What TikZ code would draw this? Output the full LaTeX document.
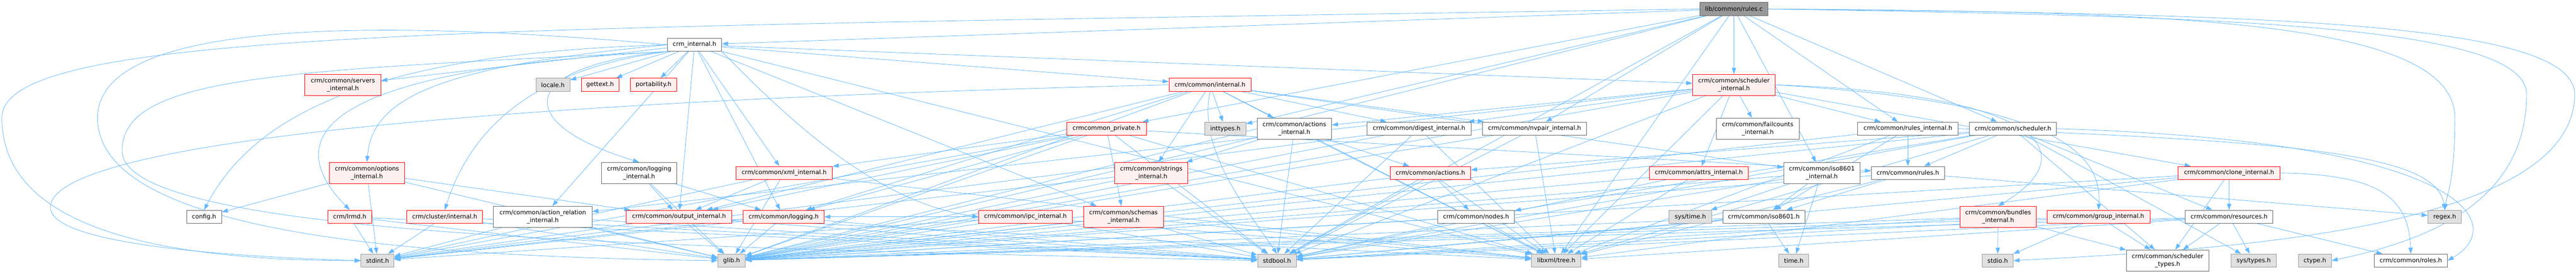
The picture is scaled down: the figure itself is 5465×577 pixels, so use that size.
\documentclass[tikz,border=0pt]{standalone}
\usepackage{fontspec}
\setmainfont{DejaVu Sans}
\usetikzlibrary{arrows.meta}
\usetikzlibrary{backgrounds}
\definecolor{edgeblue}{HTML}{63B8FF}
\definecolor{redfill}{HTML}{FFF0F0}
\definecolor{grey40}{HTML}{666666}
\definecolor{grey60}{HTML}{999999}
\definecolor{grey90}{HTML}{E0E0E0}
\tikzset{f/.style={font=\fontsize{12.8}{16.5}\selectfont}}
\tikzset{box/.style={f, draw, line width=1pt, minimum height=28pt, inner sep=2pt, align=center}}
\tikzset{root/.style={box, draw=grey40, fill=grey60}}
\tikzset{doc/.style={box, draw=grey40, fill=white}}
\tikzset{trunc/.style={box, draw=red, fill=redfill}}
\tikzset{sys/.style={box, draw=grey60, fill=grey90}}
\tikzset{two/.style={minimum height=45pt}}
\tikzset{link/.style={->, draw=edgeblue, line width=0.9pt}}

\begin{document}
\begin{tikzpicture}[x=1pt, y=-1pt, >={Triangle[length=13pt,width=9pt]}]
  \useasboundingbox (0,0) rectangle (5465,577);
  % row 1
  \node[root, minimum width=145pt] (rules) at (3678.5,19) {lib/common/rules.c};
  % row 2
  \node[doc, minimum width=115pt] (crmint) at (1473.5,95) {crm\_internal.h};
  % row 3
  \node[trunc, two, minimum width=161pt] (servers) at (727.5,180) {crm/common/servers\\\_internal.h};
  \node[sys, minimum width=72pt] (locale) at (1173,180) {locale.h};
  \node[trunc, minimum width=80pt] (gettext) at (1273,180) {gettext.h};
  \node[trunc, minimum width=99pt] (portab) at (1386.5,180) {portability.h};
  \node[trunc, minimum width=174pt] (cinternal) at (2567,180) {crm/common/internal.h};
  \node[trunc, two, minimum width=175pt] (schedint) at (3678.5,180) {crm/common/scheduler\\\_internal.h};
  % row 4
  \node[trunc, minimum width=169pt] (private) at (2347.5,273) {crmcommon\_private.h};
  \node[sys, minimum width=87pt] (inttypes) at (2599.5,273) {inttypes.h};
  \node[doc, two, minimum width=158pt] (actint) at (2746,273) {crm/common/actions\\\_internal.h};
  \node[doc, minimum width=221pt] (digest) at (3010.5,273) {crm/common/digest\_internal.h};
  \node[doc, minimum width=221pt] (nvpair) at (3255.5,273) {crm/common/nvpair\_internal.h};
  \node[doc, two, minimum width=176pt] (failcnt) at (3729,273) {crm/common/failcounts\\\_internal.h};
  \node[doc, minimum width=213pt] (rulesint) at (4047.5,273) {crm/common/rules\_internal.h};
  \node[doc, minimum width=185pt] (sched) at (4270.5,273) {crm/common/scheduler.h};
  % row 5
  \node[trunc, two, minimum width=159pt] (options) at (778.5,367) {crm/common/options\\\_internal.h};
  \node[doc, two, minimum width=160pt] (logint) at (1356,367) {crm/common/logging\\\_internal.h};
  \node[trunc, minimum width=205pt] (xmlint) at (1663.5,367) {crm/common/xml\_internal.h};
  \node[trunc, two, minimum width=155pt] (strings) at (2442.5,367) {crm/common/strings\\\_internal.h};
  \node[trunc, minimum width=171pt] (actions) at (3034.5,367) {crm/common/actions.h};
  \node[trunc, minimum width=210pt] (attrs) at (3604,367) {crm/common/attrs\_internal.h};
  \node[doc, two, minimum width=162pt] (isoint) at (3865,367) {crm/common/iso8601\\\_internal.h};
  \node[doc, minimum width=155pt] (rulesh) at (4047.5,367) {crm/common/rules.h};
  \node[trunc, minimum width=216pt] (clone) at (4729,367) {crm/common/clone\_internal.h};
  % row 6
  \node[doc, minimum width=74pt] (config) at (433,460) {config.h};
  \node[trunc, minimum width=92pt] (lrmd) at (742,460) {crm/lrmd.h};
  \node[trunc, minimum width=161pt] (cluster) at (943.5,460) {crm/cluster/internal.h};
  \node[doc, two, minimum width=209pt] (actrel) at (1151.5,460) {crm/common/action\_relation\\\_internal.h};
  \node[trunc, minimum width=223pt] (output) at (1440.5,460) {crm/common/output\_internal.h};
  \node[trunc, minimum width=171pt] (logging) at (1662.5,460) {crm/common/logging.h};
  \node[trunc, minimum width=199pt] (ipc) at (2175.5,460) {crm/common/ipc\_internal.h};
  \node[trunc, two, minimum width=169pt] (schemas) at (2383.5,460) {crm/common/schemas\\\_internal.h};
  \node[doc, minimum width=163pt] (nodes) at (3131.5,460) {crm/common/nodes.h};
  \node[sys, minimum width=90pt] (systime) at (3586,460) {sys/time.h};
  \node[doc, minimum width=174pt] (iso) at (3742,460) {crm/common/iso8601.h};
  \node[trunc, two, minimum width=162pt] (bundles) at (4239,460) {crm/common/bundles\\\_internal.h};
  \node[trunc, minimum width=218pt] (group) at (4452,460) {crm/common/group\_internal.h};
  \node[doc, minimum width=186pt] (resources) at (4729,460) {crm/common/resources.h};
  \node[sys, minimum width=71pt] (regex) at (5186.5,460) {regex.h};
  % row 7
  \node[sys, minimum width=70pt] (stdint) at (801,553) {stdint.h};
  \node[sys, minimum width=58pt] (glib) at (1552,553) {glib.h};
  \node[sys, minimum width=82pt] (stdbool) at (2709,553) {stdbool.h};
  \node[sys, minimum width=105pt] (tree) at (3301.5,553) {libxml/tree.h};
  \node[sys, minimum width=63pt] (time) at (3805.5,553) {time.h};
  \node[sys, minimum width=66pt] (stdio) at (4238,553) {stdio.h};
  \node[doc, two, minimum width=175pt] (schedtypes) at (4598.5,553) {crm/common/scheduler\\\_types.h};
  \node[sys, minimum width=96pt] (systypes) at (4781,553) {sys/types.h};
  \node[sys, minimum width=70pt] (ctype) at (4911,553) {ctype.h};
  \node[doc, minimum width=155pt] (roles) at (5114.5,553) {crm/common/roles.h};

  \begin{scope}[on background layer, every edge/.style={link}]
    % lib/common/rules.c
    \path (rules) edge (crmint) edge (private) edge (nvpair) edge (inttypes) edge (sched)
      edge (isoint) edge (schedint) edge (rulesint) edge (tree) edge (stdbool) edge (glib);
    \draw[link] (rules.west) .. controls (1000,60) and (4,60) .. (4,250)
      .. controls (4,470) and (300,553) .. (stdint.west);
    \draw[link] (rules.east) .. controls (4600,25) and (5208,40) .. (5208,250)
      .. controls (5208,380) and (5192,410) .. (regex.north);
    \draw[link] (rules.east) .. controls (4700,35) and (5360,50) .. (5360,200)
      .. controls (5360,430) and (5150,510) .. (ctype.east);
    \draw[link] (rules.east) .. controls (4800,30) and (5462,45) .. (5462,200)
      .. controls (5462,490) and (4700,530) .. (stdio.east);
    % crm_internal.h
    \path (crmint) edge (servers) edge (locale) edge (gettext) edge (portab) edge (output)
      edge (logging) edge (xmlint) edge (cinternal) edge (schemas) edge (schedint)
      edge (tree) edge (actrel);
    \draw[link] (crmint.west) .. controls (900,110) and (560,200) .. (config.north);
    \draw[link] (crmint.south west) .. controls (650,150) and (600,300) .. (lrmd.north);
    \draw[link] (crmint.west) .. controls (950,140) and (790,200) .. (options.north);
    \draw[link] (crmint.south west) .. controls (1100,150) and (990,300) .. (cluster.north);
    \draw[link] (crmint.south west) .. controls (1100,140) and (1080,260) .. (logint.north);
    \draw[link] (crmint.south east) .. controls (1650,230) and (1850,430) .. (ipc.west);
    \draw[link] (crmint.west) .. controls (800,40) and (207,40) .. (207,250)
      .. controls (207,500) and (900,545) .. (glib.west);
    \draw[link] (crmint.south west) .. controls (600,150) and (259,160) .. (259,320)
      .. controls (259,510) and (1500,525) .. (stdbool.west);
    % crm/common/internal.h
    \path (cinternal) edge (inttypes) edge (strings) edge (actint) edge (digest) edge (nvpair)
      edge (isoint) edge (glib) edge (tree) edge (output) edge (logging);
    \draw[link] (cinternal.south) .. controls (2540,320) and (2650,450) .. (stdbool.north);
    \draw[link] (cinternal.west) .. controls (1200,210) and (107,290) .. (107,440)
      .. controls (107,520) and (500,545) .. (stdint.west);
    % crm/common/scheduler_internal.h
    \path (schedint) edge (actrel) edge (actint) edge (attrs) edge (clone) edge (digest)
      edge (failcnt) edge (rulesint) edge (glib) edge (stdbool) edge (tree);
    \draw[link] (schedint.east) .. controls (4350,200) and (4420,330) .. (bundles.north);
    \draw[link] (schedint.east) .. controls (4350,215) and (4460,320) .. (group.north);
    % row 4
    \path (private) edge (glib) edge (stdbool) edge (tree) edge (stdint) edge (logging)
      edge (output) edge (xmlint) edge (rulesh) edge (schemas);
    \path (actint) edge (stdbool) edge (strings) edge (actions) edge (glib) edge (tree);
    \path (digest) edge (tree) edge (glib) edge (stdbool) edge (stdint);
    \path (nvpair) edge (tree) edge (glib) edge (stdbool);
    \path (rulesint) edge (rulesh) edge (iso) edge (glib) edge (tree);
    \draw[link] (rulesint.east) .. controls (4900,300) and (5170,330) .. (regex.north);
    \path (sched) edge (actions) edge (nodes) edge (resources) edge (rulesh) edge (schedtypes)
      edge (systypes) edge (stdbool) edge (glib) edge (tree);
    \draw[link] (sched.east) .. controls (5250,300) and (5320,480) .. (roles.east);
    % row 5
    \path (options) edge (config) edge (output) edge (glib) edge (stdint);
    \path (logint) edge (logging) edge (output) edge (glib);
    \path (xmlint) edge (output) edge (glib) edge (tree) edge (stdint);
    \path (strings) edge (glib) edge (stdbool) edge (stdint);
    \path (actions) edge (nodes) edge (glib) edge (stdbool) edge (tree);
    \path (attrs) edge (glib) edge (tree) edge (stdbool);
    \path (isoint) edge (systime) edge (iso) edge (time) edge (glib) edge (stdbool);
    \path (rulesh) edge (iso) edge (regex) edge (glib) edge (tree);
    \path (clone) edge (resources) edge (schedtypes) edge (glib) edge (stdbool) edge (tree);
    \draw[link] (clone.east) .. controls (5050,370) and (5110,420) .. (roles.north);
    % row 6
    \path (lrmd) edge (glib) edge (stdbool) edge (stdint);
    \path (cluster) edge (stdint) edge (glib) edge (stdbool);
    \path (actrel) edge (stdint) edge (glib) edge (stdbool);
    \path (output) edge (glib) edge (stdint) edge (tree) edge (stdbool);
    \path (logging) edge (glib) edge (stdint) edge (stdbool);
    \path (ipc) edge (stdint) edge (glib) edge (tree) edge (stdbool) edge (logging);
    \path (schemas) edge (glib) edge (tree) edge (stdbool);
    \path (nodes) edge (tree) edge (glib) edge (stdbool);
    \path (iso) edge (time) edge (stdbool) edge (glib);
    \path (bundles) edge (stdio) edge (schedtypes) edge (stdbool) edge (glib);
    \path (group) edge (stdio) edge (schedtypes) edge (stdbool) edge (glib);
    \path (resources) edge (schedtypes) edge (systypes) edge (roles) edge (glib)
      edge (stdbool) edge (tree);
  \end{scope}
\end{tikzpicture}
\end{document}
